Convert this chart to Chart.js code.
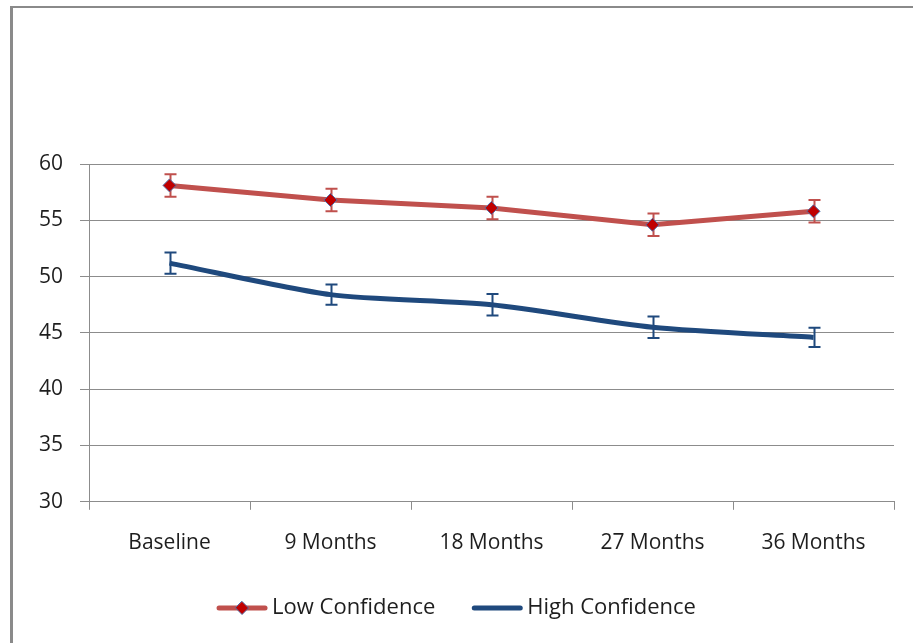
<!DOCTYPE html>
<html>
<head>
<meta charset="utf-8">
<script src="https://cdn.jsdelivr.net/npm/chart.js@4/dist/chart.umd.min.js"></script>
<style>
  body { margin: 0; background: #fff; }
  #wrap { position: absolute; left: 0; top: 0; width: 913px; height: 643px; }
  #frame { position: absolute; left: 10px; top: 6px; width: 920px; height: 660px;
           border-left: 3px solid #8a8a8a; border-top: 2px solid #8a8a8a; }
  canvas { position: absolute; left: 0; top: 0; }
</style>
</head>
<body>
<div id="wrap">
  <div id="frame"></div>
  <canvas id="chart" width="913" height="643"></canvas>
</div>
<script>
// data
var categories = ["Baseline", "9 Months", "18 Months", "27 Months", "36 Months"];
var lowConf = [58.1, 56.8, 56.1, 54.6, 55.8];
var lowErr = [1.0, 1.0, 1.0, 1.0, 1.0];
var highConf = [51.2, 48.4, 47.5, 45.5, 44.6];
var highErr = [0.95, 0.9, 0.95, 0.95, 0.85];
var yTicks = [30, 35, 40, 45, 50, 55, 60];

var FONT = "'Open Sans', sans-serif";
var RED = "#c0504d", BLUE = "#1f497d";

var errorBars = {
  id: "errorBars",
  beforeDatasetsDraw: function (chart) {
    var ctx = chart.ctx;
    var xs = chart.scales.x, ys = chart.scales.y;
    chart.data.datasets.forEach(function (ds) {
      if (!ds.errors) return;
      ctx.save();
      ctx.strokeStyle = ds.borderColor;
      ctx.lineWidth = 2;
      ds.data.forEach(function (v, i) {
        var x = Math.round(xs.getPixelForValue(i)) + 0.5;
        var top = ys.getPixelForValue(v + ds.errors[i]);
        var bot = ys.getPixelForValue(v - ds.errors[i]);
        ctx.beginPath();
        ctx.moveTo(x, top); ctx.lineTo(x, bot);
        ctx.moveTo(x - 6, top); ctx.lineTo(x + 6, top);
        ctx.moveTo(x - 6, bot); ctx.lineTo(x + 6, bot);
        ctx.stroke();
      });
      ctx.restore();
    });
  }
};

// legend drawn by hand: line sample with marker, like the original
var lineLegend = {
  id: "lineLegend",
  afterDraw: function (chart) {
    var ctx = chart.ctx;
    var y = 608, sample = 50, gap = 5, between = 37;
    ctx.save();
    ctx.font = "22px " + FONT;
    var items = chart.data.datasets;
    var total = 0;
    items.forEach(function (ds, i) {
      total += sample + gap + ctx.measureText(ds.label).width + (i ? between : 0);
    });
    var x = chart.width / 2 - total / 2;
    items.forEach(function (ds, i) {
      if (i) x += between;
      ctx.strokeStyle = ds.borderColor;
      ctx.lineWidth = 5;
      ctx.lineCap = "round";
      ctx.beginPath();
      ctx.moveTo(x + 2, y); ctx.lineTo(x + sample - 2, y);
      ctx.stroke();
      if (ds.pointRadius > 0) {
        var cx = x + sample / 2, r = 6.5;
        ctx.fillStyle = ds.pointBackgroundColor;
        ctx.strokeStyle = ds.pointBorderColor;
        ctx.lineWidth = 1;
        ctx.beginPath();
        ctx.moveTo(cx, y - r); ctx.lineTo(cx + r, y); ctx.lineTo(cx, y + r); ctx.lineTo(cx - r, y);
        ctx.closePath();
        ctx.fill(); ctx.stroke();
      }
      x += sample + gap;
      ctx.fillStyle = "#1e1e1e";
      ctx.textBaseline = "middle";
      ctx.fillText(ds.label, x, y);
      x += ctx.measureText(ds.label).width;
    });
    ctx.restore();
  }
};

new Chart(document.getElementById("chart").getContext("2d"), {
  type: "line",
  data: {
    labels: categories,
    datasets: [
      {
        label: "Low Confidence",
        data: lowConf,
        errors: lowErr,
        borderColor: RED,
        borderWidth: 5,
        pointStyle: "rectRot",
        pointRadius: 6.5,
        pointBackgroundColor: "#c00000",
        pointBorderColor: "#4f6fa8",
        pointBorderWidth: 1,
        tension: 0
      },
      {
        label: "High Confidence",
        data: highConf,
        errors: highErr,
        borderColor: BLUE,
        borderWidth: 5,
        pointRadius: 0,
        tension: 0.25
      }
    ]
  },
  options: {
    responsive: false,
    animation: false,
    layout: { padding: { top: 164, right: 19, left: 22, bottom: 66 } },
    plugins: { legend: { display: false }, tooltip: { enabled: false } },
    scales: {
      x: {
        offset: true,
        grid: { display: true, drawOnChartArea: false, tickLength: 8, color: "#8c8c8c", offset: true },
        border: { color: "#8c8c8c" },
        ticks: { color: "#1e1e1e", font: { family: FONT, size: 21 }, padding: 21 }
      },
      y: {
        min: 30,
        max: 60,
        afterBuildTicks: function (axis) {
          axis.ticks = yTicks.map(function (v) { return { value: v }; });
        },
        grid: { color: "#8c8c8c", tickLength: 9 },
        border: { color: "#8c8c8c" },
        ticks: { color: "#1e1e1e", font: { family: FONT, size: 21 }, padding: 17 }
      }
    }
  },
  plugins: [errorBars, lineLegend]
});
</script>
</body>
</html>
